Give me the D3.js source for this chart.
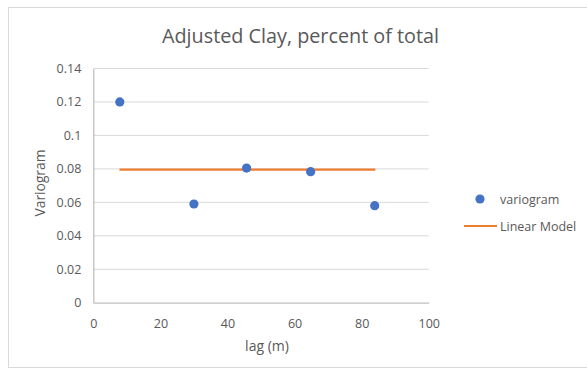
<!DOCTYPE html>
<html>
<head>
<meta charset="utf-8">
<script src="https://cdn.jsdelivr.net/npm/d3@7"></script>
<style>
  html, body { margin: 0; padding: 0; background: #fff; }
  svg { display: block; font-family: "Open Sans", "Noto Sans", sans-serif; }
</style>
</head>
<body>
<svg id="chart" width="587" height="370"></svg>
<script>
// Experimental variogram points (lag in metres, semivariance)
const lags = [7.9, 30.0, 45.7, 64.8, 83.9];
const variogram = [0.120, 0.059, 0.0805, 0.0783, 0.058];

// Fitted linear (flat) model
const modelLags = [7.8, 84.1];
const modelValues = [0.0795, 0.0795];

const xTicks = [0, 20, 40, 60, 80, 100];
const yTicks = [0, 0.02, 0.04, 0.06, 0.08, 0.1, 0.12, 0.14];

const svg = d3.select("#chart");
const textColor = "#595959";

// Chart frame
svg.append("rect")
  .attr("x", 8.5).attr("y", 7.5)
  .attr("width", 590).attr("height", 360)
  .attr("fill", "#fff").attr("stroke", "#d9d9d9");

const x = d3.scaleLinear().domain([0, 100]).range([93.3, 428.7]);
const y = d3.scaleLinear().domain([0, 0.14]).range([302.7, 68.5]);

// Gridlines
svg.append("g")
  .selectAll("line")
  .data(yTicks.slice(1))
  .join("line")
  .attr("x1", x(0)).attr("x2", x(100))
  .attr("y1", d => y(d)).attr("y2", d => y(d))
  .attr("stroke", "#d9d9d9").attr("stroke-width", 1);

// Axes
const xAxis = svg.append("g")
  .attr("transform", `translate(0,${y(0)})`)
  .call(d3.axisBottom(x).tickValues(xTicks).tickSize(0).tickPadding(16).tickFormat(d3.format("d")));
const yAxis = svg.append("g")
  .attr("transform", `translate(${x(0)},0)`)
  .call(d3.axisLeft(y).tickValues(yTicks).tickSize(0).tickPadding(12).tickFormat(d => d === 0 ? "0" : String(+d.toFixed(2))));

[xAxis, yAxis].forEach(g => {
  g.select(".domain").attr("stroke", "#bfbfbf").attr("stroke-width", 1.3);
  g.selectAll("text").attr("fill", textColor).attr("font-size", 12.5)
    .attr("font-family", "'Open Sans', 'Noto Sans', sans-serif");
});

// Linear model line
const line = d3.line().x(d => x(d[0])).y(d => y(d[1]));
svg.append("path")
  .datum(modelLags.map((l, i) => [l, modelValues[i]]))
  .attr("d", line)
  .attr("fill", "none")
  .attr("stroke", "#ED7D31")
  .attr("stroke-width", 2.2);

// Variogram points
svg.append("g")
  .selectAll("circle")
  .data(lags.map((l, i) => [l, variogram[i]]))
  .join("circle")
  .attr("cx", d => x(d[0]))
  .attr("cy", d => y(d[1]))
  .attr("r", 4.6)
  .attr("fill", "#4472C4");

// Title
svg.append("text")
  .attr("x", 300.5).attr("y", 43)
  .attr("text-anchor", "middle")
  .attr("font-size", 19.8)
  .attr("fill", textColor)
  .text("Adjusted Clay, percent of total");

// Axis titles
svg.append("text")
  .attr("x", 267).attr("y", 351)
  .attr("text-anchor", "middle")
  .attr("font-size", 14)
  .attr("fill", textColor)
  .text("lag (m)");

svg.append("text")
  .attr("transform", "translate(45,183) rotate(-90)")
  .attr("text-anchor", "middle")
  .attr("font-size", 13.8)
  .attr("fill", textColor)
  .text("Variogram");

// Legend
const legend = svg.append("g");
legend.append("circle")
  .attr("cx", 480).attr("cy", 199).attr("r", 4.6).attr("fill", "#4472C4");
legend.append("text")
  .attr("x", 500).attr("y", 203.5)
  .attr("font-size", 12.5).attr("fill", textColor)
  .text("variogram");
legend.append("line")
  .attr("x1", 464).attr("x2", 497).attr("y1", 226).attr("y2", 226)
  .attr("stroke", "#ED7D31").attr("stroke-width", 2.2);
legend.append("text")
  .attr("x", 500).attr("y", 230.5)
  .attr("font-size", 12.5).attr("fill", textColor)
  .text("Linear Model");
</script>
</body>
</html>
